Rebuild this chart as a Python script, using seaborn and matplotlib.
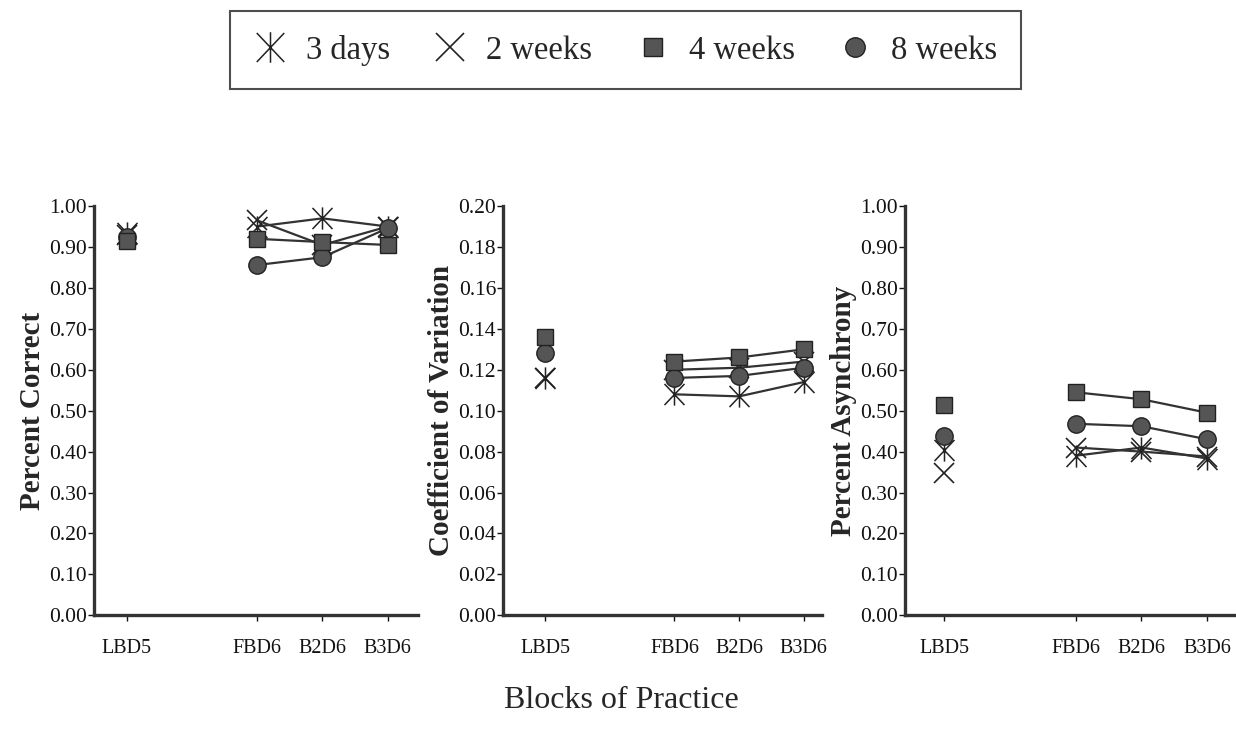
import numpy as np
import seaborn as sns
import matplotlib.pyplot as plt
from matplotlib.lines import Line2D
from matplotlib.path import Path

# data
blocks = ['LBD5', 'FBD6', 'B2D6', 'B3D6']
groups = ['3 days', '2 weeks', '4 weeks', '8 weeks']

pc_3days = [0.935, 0.950, 0.970, 0.950]
pc_2weeks = [0.930, 0.965, 0.905, 0.950]
pc_4weeks = [0.915, 0.920, 0.912, 0.905]
pc_8weeks = [0.925, 0.856, 0.875, 0.946]

cv_3days = [0.116, 0.108, 0.107, 0.114]
cv_2weeks = [0.116, 0.120, 0.121, 0.124]
cv_4weeks = [0.136, 0.124, 0.126, 0.130]
cv_8weeks = [0.128, 0.116, 0.117, 0.121]

pa_3days = [0.405, 0.390, 0.410, 0.383]
pa_2weeks = [0.347, 0.410, 0.400, 0.388]
pa_4weeks = [0.515, 0.545, 0.528, 0.495]
pa_8weeks = [0.438, 0.468, 0.462, 0.430]

panels = [
    ('Percent Correct', [pc_3days, pc_2weeks, pc_4weeks, pc_8weeks], 1.0, 0.1),
    ('Coefficient of Variation', [cv_3days, cv_2weeks, cv_4weeks, cv_8weeks], 0.2, 0.02),
    ('Percent Asynchrony', [pa_3days, pa_2weeks, pa_4weeks, pa_8weeks], 1.0, 0.1),
]

# x positions: gap between day 5 and day 6 blocks
block_pos = [0, 2, 3, 4]

# asterisk = vertical bar plus a tall X
star = Path([(0, -1), (0, 1), (-0.9, -0.95), (0.9, 0.95), (-0.9, 0.95), (0.9, -0.95)],
            [Path.MOVETO, Path.LINETO, Path.MOVETO, Path.LINETO, Path.MOVETO, Path.LINETO])

GRAY = '#555555'
EDGE = '#222222'
styles = {
    '3 days': dict(marker=star, markersize=16, markeredgewidth=1.1,
                   markeredgecolor=EDGE, markerfacecolor='none'),
    '2 weeks': dict(marker='x', markersize=14, markeredgewidth=1.2,
                    markeredgecolor=EDGE, markerfacecolor='none'),
    '4 weeks': dict(marker='s', markersize=12, markeredgewidth=1.0,
                    markeredgecolor=EDGE, markerfacecolor=GRAY),
    '8 weeks': dict(marker='o', markersize=12.5, markeredgewidth=1.0,
                    markeredgecolor=EDGE, markerfacecolor=GRAY),
}
legend_sizes = {'3 days': 22, '2 weeks': 20, '4 weeks': 13, '8 weeks': 14}
draw_order = ['3 days', '2 weeks', '8 weeks', '4 weeks']

sns.set_style('ticks')
plt.rcParams['font.family'] = ['Liberation Serif', 'DejaVu Serif']

fig = plt.figure(figsize=(12.36, 7.36), dpi=100)
axes_rects = [
    [0.076, 0.164, 0.262, 0.556],
    [0.407, 0.164, 0.258, 0.556],
    [0.732, 0.164, 0.266, 0.556],
]
xlims = [(-0.5, 4.46), (-0.65, 4.28), (-0.6, 4.4)]

for rect, xlim, (ylabel, series, ymax, ystep) in zip(axes_rects, xlims, panels):
    ax = fig.add_axes(rect)
    for g in draw_order:
        vals = series[groups.index(g)]
        # isolated LBD5 point
        sns.lineplot(x=block_pos[:1], y=vals[:1], ax=ax, color='#333333',
                     linestyle='none', **styles[g])
        # connected day 6 blocks
        sns.lineplot(x=block_pos[1:], y=vals[1:], ax=ax, color='#333333',
                     linewidth=1.6, **styles[g])
    ax.set_xlim(*xlim)
    ax.set_ylim(0, ymax)
    ax.set_yticks(np.arange(0, ymax + ystep / 2, ystep))
    ax.yaxis.set_major_formatter(plt.FormatStrFormatter('%.2f'))
    ax.set_xticks(block_pos)
    ax.set_xticklabels(blocks)
    ax.tick_params(axis='y', labelsize=15.5, length=4, width=1, pad=1,
                   colors='#111111')
    ax.tick_params(axis='x', labelsize=14.5, length=4, width=1, pad=13,
                   colors='#111111')
    ax.set_ylabel(ylabel, fontsize=21, fontweight='bold', labelpad=2)
    ax.set_xlabel('')
    for side in ['top', 'right']:
        ax.spines[side].set_visible(False)
    for side in ['left', 'bottom']:
        ax.spines[side].set_linewidth(2.4)
        ax.spines[side].set_color('#333333')

fig.text(0.503, 0.048, 'Blocks of Practice', ha='center', va='center',
         fontsize=23)

handles = []
for g in groups:
    kw = dict(styles[g])
    kw['markersize'] = legend_sizes[g]
    handles.append(Line2D([], [], linestyle='none', **kw))
leg = fig.legend(handles, groups, loc='center', bbox_to_anchor=(0.506, 0.932),
                 ncol=4, frameon=True, fancybox=False, fontsize=23.5,
                 handlelength=1.0, handletextpad=0.6, columnspacing=1.35,
                 borderpad=0.72, borderaxespad=0)
leg.get_frame().set_edgecolor('#222222')
leg.get_frame().set_linewidth(1.5)

fig.savefig('out.png', dpi=100)
